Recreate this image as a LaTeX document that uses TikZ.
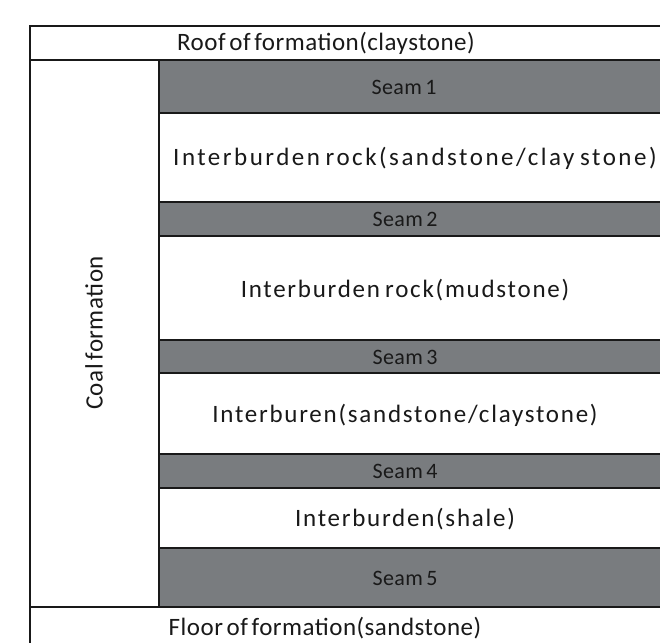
\documentclass[tikz,border=0pt]{standalone}
\usepackage{fontspec}
\setmainfont{Carlito}
\newfontfamily\lblfont[LetterSpace=7,WordSpace=0.7]{Carlito}
\newfontfamily\tightlblfont[LetterSpace=2,WordSpace=0.6]{Carlito}
\newfontfamily\widelblfont[LetterSpace=10,WordSpace=0.7]{Carlito}
\definecolor{seamgray}{HTML}{797C7F}
\begin{document}
\begin{tikzpicture}[x=1pt,y=-1pt,
  lbl/.style={font=\lblfont\fontsize{25}{30}\selectfont, text=black!90, inner sep=0pt},
  tightlbl/.style={lbl, font=\tightlblfont\fontsize{25}{30}\selectfont},
  widelbl/.style={lbl, font=\widelblfont\fontsize{25}{30}\selectfont},
  seamlbl/.style={lbl, font=\tightlblfont\fontsize{22}{26}\selectfont},
  seambox/.style={fill=seamgray, draw=black!90, line width=1.4pt},
  rule/.style={draw=black!90, line width=1.4pt}]
\useasboundingbox (0,0) rectangle (660,642);
\clip (0,0) rectangle (660,642);
\fill[white] (0,0) rectangle (660,642);
% seams
\draw[seambox] (159,60) rectangle (672,113);
\draw[seambox] (159,202) rectangle (672,236);
\draw[seambox] (159,340) rectangle (672,373);
\draw[seambox] (159,454) rectangle (672,488);
\draw[seambox] (159,548) rectangle (672,607);
% frame
\draw[rule] (672,26) -- (30,26) -- (30,660);
\draw[rule] (30,60) -- (672,60);
\draw[rule] (159,60) -- (159,607);
\draw[rule] (30,607) -- (672,607);
% texts
\node[tightlbl] (roof) at (326,43) {Roof of formation(claystone)};
\node[seamlbl] (s1) at (404,87) {Seam 1};
\node[widelbl, anchor=west] (ib1) at (173,158) {Interburden rock(sandstone/clay stone)};
\node[seamlbl] (s2) at (405,219) {Seam 2};
\node[lbl] (ib2) at (405,290) {Interburden rock(mudstone)};
\node[seamlbl] (s3) at (405,357) {Seam 3};
\node[lbl] (ib3) at (405,415) {Interburen(sandstone/claystone)};
\node[seamlbl] (s4) at (405,471) {Seam 4};
\node[lbl] (ib4) at (405,519) {Interburden(shale)};
\node[seamlbl] (s5) at (405,578) {Seam 5};
\node[tightlbl] (floor) at (325,628) {Floor of formation(sandstone)};
\node[tightlbl, rotate=90] (coal) at (94,333) {Coal formation};
\end{tikzpicture}
\end{document}
